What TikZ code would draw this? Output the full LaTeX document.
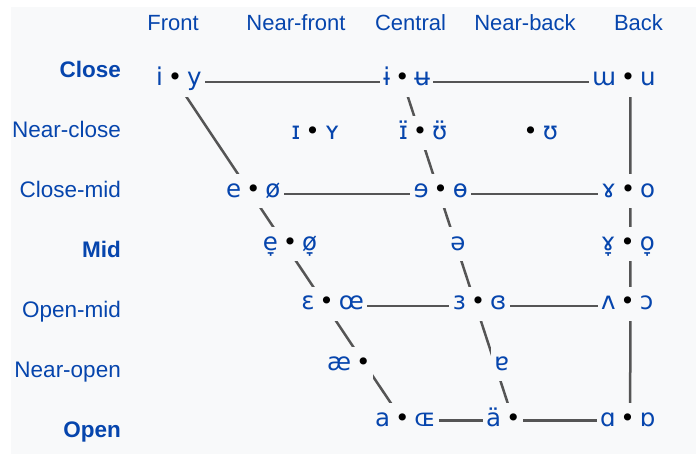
\documentclass[tikz,border=0pt]{standalone}
\usepackage{fontspec}
\setmainfont{Liberation Sans}
\newfontfamily\ipafont{DejaVu Sans}
\usepackage{tikz}
\usetikzlibrary{backgrounds}

\definecolor{chartbg}{HTML}{F8F9FA}
\definecolor{linkblue}{HTML}{0645AD}
\definecolor{chartline}{HTML}{555555}

\tikzset{
	cell/.style={fill=chartbg, text=linkblue, font=\ipafont\fontsize{24.5}{28}\selectfont,
		inner ysep=1pt, text height=22pt, text depth=10pt},
	dot/.style={cell, text=black, inner xsep=2pt},
	side/.style={cell, inner xsep=3.5pt},
	every label/.style={label distance=-1pt},
	colhead/.style={text=linkblue, font=\fontsize{22}{26}\selectfont, anchor=base},
	rowhead/.style={colhead, font=\fontsize{22.5}{26}\selectfont, anchor=base east, inner sep=0pt},
	chartedge/.style={draw=chartline, line width=2.5pt},
}

\begin{document}
\begin{tikzpicture}[x=1pt, y=-1pt]
	\useasboundingbox (0,0) rectangle (696,454);
	% column and row titles
	\node[colhead] (front) at (173,30.5) {Front};
	\node[colhead] (nfront) at (296,30.5) {Near-front};
	\node[colhead] (central) at (410.5,30.5) {Central};
	\node[colhead] (nback) at (525,30.5) {Near-back};
	\node[colhead] (back) at (638.5,30.5) {Back};
	%
	\node[rowhead] (close) at (121,78) {\bfseries Close};
	\node[rowhead] (nclose) at (121,138) {Near-close};
	\node[rowhead] (closemid) at (121,198) {Close-mid};
	\node[rowhead] (mid) at (121,258) {\bfseries Mid};
	\node[rowhead] (openmid) at (121,317.5) {Open-mid};
	\node[rowhead] (nopen) at (121,377) {Near-open};
	\node[rowhead] (open) at (121,437) {\bfseries Open};
	% vowel pairs, the node is the dot
	\node[dot, label={[side]left:i}, label={[side]right:y}] (iy) at (175,79.7) {•};
	\node[dot, label={[side]left:ɨ}, label={[side]right:ʉ}] (ibar) at (402.3,79.7) {•};
	\node[dot, label={[side]left:ɯ}, label={[side]right:u}] (mu) at (628,79.7) {•};
	%
	\node[dot, label={[side]left:ɪ}, label={[side]right:ʏ}] (smalli) at (312.7,133.3) {•};
	\node[dot, label={[side]left:ɪ̈}, label={[side]right:ʊ̈}] (smallic) at (420,133.3) {•};
	\node[dot, label={[side]right:ʊ}] (hsu) at (530.7,133.3) {•};
	%
	\node[dot, label={[side]left:e}, label={[side]right:ø}] (eo) at (253.3,191.3) {•};
	\node[dot, label={[side]left:ɘ}, label={[side]right:ɵ}] (eocen) at (440.7,191.3) {•};
	\node[dot, label={[side]left:ɤ}, label={[side]right:o}] (ramo) at (628,191.3) {•};
	%
	\node[dot, label={[side]left:e̞}, label={[side]right:ø̞}] (eomid) at (290,244.3) {•};
	\node[side] (schwa) at (458,244.3) {ə};
	\node[dot, label={[side]left:ɤ̞}, label={[side]right:o̞}] (ramomid) at (627.7,244.3) {•};
	%
	\node[dot, label={[side]left:ɛ}, label={[side]right:œ}] (epsoe) at (326.7,303.7) {•};
	\node[dot, label={[side]left:ɜ}, label={[side]right:ɞ}] (epscen) at (478,303.7) {•};
	\node[dot, label={[side]left:ʌ}, label={[side]right:ɔ}] (vc) at (627.7,303.7) {•};
	%
	\node[dot, label={[side]left:æ}] (ash) at (363.3,364) {•};
	\node[side] (turna) at (501.7,364) {ɐ};
	%
	\node[dot, label={[side]left:a}, label={[side]right:ɶ}] (aoe) at (402.3,420.3) {•};
	\node[dot, label={[side]left:ä}] (acen) at (513.3,420.3) {•};
	\node[dot, label={[side]left:ɑ}, label={[side]right:ɒ}] (alpha) at (627.7,420.3) {•};
	% trapezium behind the symbols
	\begin{pgfonlayer}{background}
		\fill[chartbg] (11,7) rectangle (696,454);
		\draw[chartedge] ([yshift=-2.5pt]iy.center) -- ([yshift=-2.5pt]ibar.center) -- ([yshift=-2.5pt]mu.center);
		\draw[chartedge] ([yshift=-2.5pt]eo.center) -- ([yshift=-2.5pt]eocen.center) -- ([yshift=-2.5pt]ramo.center);
		\draw[chartedge] ([yshift=-2.5pt]epsoe.center) -- ([yshift=-2.5pt]epscen.center) -- ([yshift=-2.5pt]vc.center);
		\draw[chartedge] (aoe.center) -- (acen.center) -- (alpha.center);
		%
		\draw[chartedge] (iy.center) -- (aoe.center);
		\draw[chartedge] (ibar.center) -- (acen.center);
		\draw[chartedge] ([xshift=2.5pt]mu.center) -- ([xshift=2.5pt]alpha.center);
	\end{pgfonlayer}
\end{tikzpicture}
\end{document}
